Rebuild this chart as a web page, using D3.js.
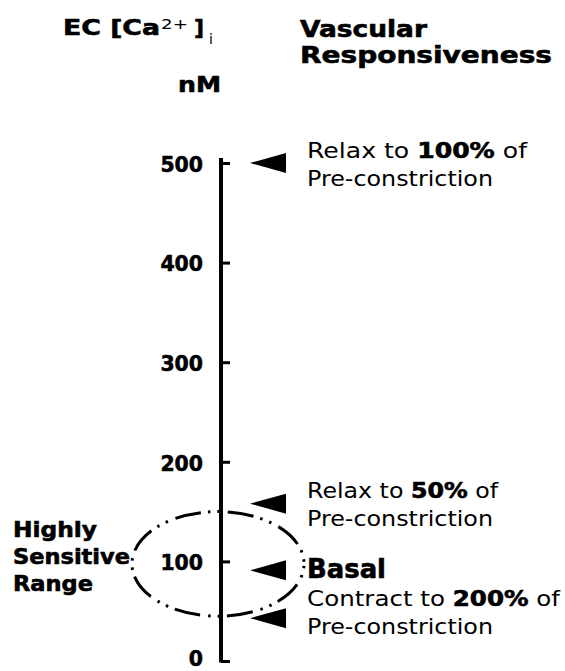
<!DOCTYPE html>
<html>
<head>
<meta charset="utf-8">
<script src="https://cdn.jsdelivr.net/npm/d3@7"></script>
<style>
  html, body { margin: 0; padding: 0; background: #fff; }
  svg { display: block; }
  text { font-family: "DejaVu Sans", Verdana, sans-serif; fill: #000; }
  .heavy { stroke: #000; stroke-width: 0.6px; }
</style>
</head>
<body>
<svg id="chart" width="565" height="671"></svg>
<script>
// ---- data ----
const tickValues = [0, 100, 200, 300, 400, 500];
const markerValues = [500, 158, 91, 43];           // nM, arrow tips
const markerNames = ["Relax 100%", "Relax 50%", "Basal", "Contract 200%"];
const sensitiveRange = [45, 150];                   // nM, dashed ellipse
const rangeLabel = ["Highly", "Sensitive", "Range"];
const axisTitle = ["EC [Ca", "2+", "]", "i"];
const unitLabel = "nM";
const rightTitle = ["Vascular", "Responsiveness"];
// each label: lines of [text, bold] segments
const responseLines = [
  [[["Relax to ", false], ["100%", true], [" of", false]], [["Pre-constriction", false]]],
  [[["Relax to ", false], ["50%", true], [" of", false]], [["Pre-constriction", false]]],
  [[["Basal", true]]],
  [[["Contract to ", false], ["200%", true], [" of", false]], [["Pre-constriction", false]]]
];

// ---- layout ----
const svg = d3.select("#chart");
const axisX = 221;
const y = d3.scaleLinear().domain([0, 500]).range([661, 163]);

// axis line
svg.append("line")
  .attr("x1", axisX).attr("x2", axisX)
  .attr("y1", y(0) + 1.5).attr("y2", y(505))
  .attr("stroke", "#000").attr("stroke-width", 4);

const axis = d3.axisLeft(y)
  .tickValues(tickValues)
  .tickSizeInner(-9)
  .tickSizeOuter(0)
  .tickPadding(18)
  .tickFormat(d3.format("d"));

const gAxis = svg.append("g").attr("transform", `translate(${axisX},0)`).call(axis);
gAxis.select(".domain").remove();
gAxis.selectAll(".tick line").attr("stroke", "#000").attr("stroke-width", 3);
gAxis.selectAll(".tick text")
  .attr("class", "heavy")
  .attr("font-family", "DejaVu Sans, Verdana, sans-serif")
  .attr("font-weight", "bold")
  .attr("font-size", 22)
  .attr("dy", d => d === 0 ? "0.22em" : "0.38em")
  .attr("textLength", d => String(d).length * 14.2)
  .attr("lengthAdjust", "spacingAndGlyphs")
  .attr("fill", "#000");

// dashed ellipse (highly sensitive range)
const ecy = (y(sensitiveRange[0]) + y(sensitiveRange[1])) / 2;
const ery = (y(sensitiveRange[0]) - y(sensitiveRange[1])) / 2;
svg.append("ellipse")
  .attr("cx", 218).attr("cy", ecy)
  .attr("rx", 86).attr("ry", ery)
  .attr("fill", "none")
  .attr("stroke", "#000").attr("stroke-width", 3)
  .attr("stroke-dasharray", "26 7 2.5 7 2.5 8")
  .attr("stroke-dashoffset", 31);

// arrow markers (left-pointing triangles)
const tipX = 250, baseX = 286, half = 10;
svg.selectAll("path.marker")
  .data(markerValues)
  .join("path")
  .attr("class", "marker")
  .attr("d", v => `M${tipX},${y(v)}L${baseX},${y(v) - half}L${baseX},${y(v) + half}Z`)
  .attr("fill", "#000");

// response labels
const labelX = 307;
const lineBaselines = [[158, 186], [498, 526], [578], [606, 634]];
const lineWidths = [[220, 186], [191, 186], [79], [253, 186]];
responseLines.forEach((lines, i) => {
  lines.forEach((segs, j) => {
    const isBasal = i === 2;
    const t = svg.append("text")
      .attr("x", labelX)
      .attr("y", lineBaselines[i][j])
      .attr("font-size", isBasal ? 26 : 21)
      .attr("textLength", lineWidths[i][j])
      .attr("lengthAdjust", "spacingAndGlyphs");
    segs.forEach(([s, b]) => {
      const ts = t.append("tspan").attr("font-weight", b ? "bold" : "normal").text(s);
      if (b) ts.attr("class", "heavy");
    });
  });
});

// left range label
const rangeBaselines = [537, 564, 591];
const rangeWidths = [84, 117, 80];
rangeLabel.forEach((s, i) => {
  svg.append("text")
    .attr("class", "heavy")
    .attr("x", 13).attr("y", rangeBaselines[i])
    .attr("font-size", 21).attr("font-weight", "bold")
    .attr("textLength", rangeWidths[i]).attr("lengthAdjust", "spacingAndGlyphs")
    .text(s);
});

// axis title: EC [Ca2+]i
svg.append("text").attr("class", "heavy").attr("x", 63).attr("y", 35)
  .attr("font-size", 22).attr("font-weight", "bold")
  .attr("textLength", 97).attr("lengthAdjust", "spacingAndGlyphs")
  .text(axisTitle[0]);
svg.append("text").attr("x", 161).attr("y", 29)
  .attr("font-size", 14)
  .attr("textLength", 27).attr("lengthAdjust", "spacingAndGlyphs")
  .text(axisTitle[1]);
svg.append("text").attr("class", "heavy").attr("x", 194).attr("y", 35)
  .attr("font-size", 22).attr("font-weight", "bold")
  .text(axisTitle[2]);
svg.append("text").attr("x", 209).attr("y", 44)
  .attr("font-size", 14)
  .text(axisTitle[3]);

svg.append("text").attr("class", "heavy").attr("x", 178).attr("y", 92)
  .attr("font-size", 22).attr("font-weight", "bold")
  .attr("textLength", 43).attr("lengthAdjust", "spacingAndGlyphs")
  .text(unitLabel);

// right title
const rtBaselines = [37, 63];
const rtWidths = [127, 252];
rightTitle.forEach((s, i) => {
  svg.append("text").attr("class", "heavy").attr("x", 300).attr("y", rtBaselines[i])
    .attr("font-size", 23).attr("font-weight", "bold")
    .attr("textLength", rtWidths[i]).attr("lengthAdjust", "spacingAndGlyphs")
    .text(s);
});
</script>
</body>
</html>
